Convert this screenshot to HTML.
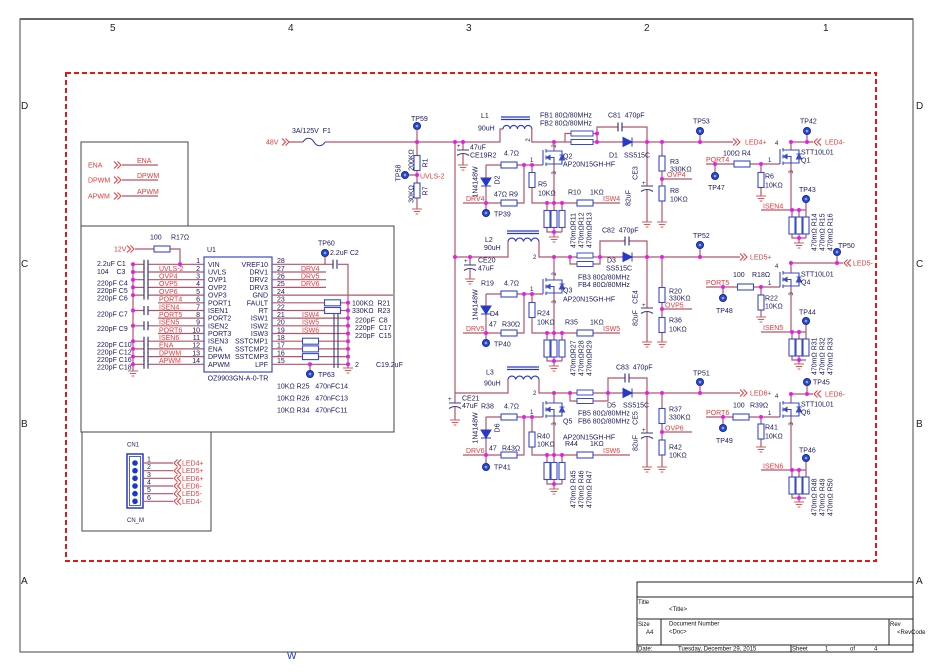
<!DOCTYPE html>
<html><head><meta charset="utf-8"><style>
html,body{margin:0;padding:0;background:#fff;width:950px;height:672px;overflow:hidden}
svg{display:block;font-family:"Liberation Sans",Arial,sans-serif}
.w{stroke:#b0566a;stroke-width:1.2;fill:none}
.k{stroke:#3a3a8a;stroke-width:1.1;fill:none}
.t{font-size:7px;fill:#1a1a60}
.n{font-size:7px;fill:#e23b3b}
.s{font-size:6px;fill:#111}
.z{font-size:10px;fill:#222}
.m{text-anchor:middle}
.e{text-anchor:end}
</style></head><body>
<svg width="950" height="672" viewBox="0 0 950 672" xmlns="http://www.w3.org/2000/svg">
<defs>
<path id="g" d="M-5,0H5M-3.2,2.5H3.2M-1.4,5H1.4" stroke="#d45a5a" stroke-width="1" fill="none"/>
<circle id="j" r="2" fill="#e81ee8"/>
<g id="tp"><circle r="3.6" fill="#2446d8" stroke="#15257a" stroke-width="0.8"/><circle r="1.3" fill="#90a8ff"/></g>
<rect id="rh" x="-8" y="-3" width="16" height="6" fill="#fff" stroke="#3b4bc8" stroke-width="1.1"/>
<rect id="rv" x="-3" y="-7.5" width="6" height="15" fill="#fff" stroke="#3b4bc8" stroke-width="1.1"/>
<rect id="rs" x="-3" y="-8.5" width="6" height="17" fill="#fff" stroke="#3b4bc8" stroke-width="1.1"/>
<path id="ar" d="M0,-3.5L3.5,0L0,3.5M3.5,-3.5L7,0L3.5,3.5" stroke="#e23b3b" stroke-width="1" fill="none"/>
<path id="al" d="M7,-3.5L3.5,0L7,3.5M3.5,-3.5L0,0L3.5,3.5" stroke="#e23b3b" stroke-width="1" fill="none"/>
<g id="nm" fill="none" stroke="#3b4bc8" stroke-width="1.1">
 <path d="M0,0V-15M3,-16V-12.5M3,-9.5V-5.5M3,-2.5V1M3,-14H11M3,-7.5H11V-1H3M11,-14H19V-1H11"/>
 <path d="M3.5,-7.5L7,-9.5V-5.5Z" fill="#3b4bc8"/>
 <path d="M16.5,-5H21.5L19,-10ZM16.5,-10H21.5" fill="#3b4bc8"/>
</g>
<path id="dd" d="M-5,0H5L0,8ZM-5,8H5" fill="#2838c8" stroke="#2838c8" stroke-width="1"/>
<path id="dr" d="M0,-4.5L9,0L0,4.5ZM9,-4.5V4.5" fill="#2838c8" stroke="#2838c8" stroke-width="1"/>
<path id="cv" d="M0,-4.5V4.5M4,-4.5V4.5" stroke="#3a3a8a" stroke-width="1.2" fill="none"/>
<path id="ce" d="M-6,0H6M-6,5.5Q0,1.5 6,5.5" fill="none" stroke="#3a3a8a" stroke-width="1.1"/>
</defs>

<!-- frame -->
<path d="M20,19H913V652H20Z" fill="none" stroke="#444" stroke-width="1"/>
<path d="M20,19H913" stroke="#666" stroke-width="2"/>
<text x="110" y="31" class="z">5</text><text x="288" y="31" class="z">4</text><text x="466" y="31" class="z">3</text><text x="644" y="31" class="z">2</text><text x="823" y="31" class="z">1</text>
<text x="21" y="109" class="z">D</text><text x="916" y="109" class="z">D</text>
<text x="21" y="267" class="z">C</text><text x="916" y="267" class="z">C</text>
<text x="21" y="427" class="z">B</text><text x="916" y="427" class="z">B</text>
<text x="21" y="584" class="z">A</text><text x="916" y="584" class="z">A</text>
<text x="287" y="659" class="z" style="fill:#2030d0">W</text>

<rect x="66" y="73" width="810" height="488" fill="none" stroke="#e01818" stroke-width="2" stroke-dasharray="5,3"/>

<!-- title block -->
<g fill="none" stroke="#222" stroke-width="1">
<rect x="637" y="582" width="276" height="70"/>
<path d="M637,597H913M637,619H913M637,645H913M661,619V645M889,619V645M791,645V652"/>
</g>
<text x="638" y="604" class="s">Title</text><text x="669" y="611" class="s">&lt;Title&gt;</text>
<text x="638" y="626" class="s">Size</text><text x="646" y="634" class="s">A4</text>
<text x="669" y="625.5" class="s">Document Number</text><text x="669" y="633.5" class="s">&lt;Doc&gt;</text>
<text x="890" y="626" class="s">Rev</text><text x="897" y="634" class="s">&lt;RevCode</text>
<text x="638" y="650.5" class="s">Date:</text><text x="678" y="650.5" class="s">Tuesday, December 29, 2015</text>
<text x="792" y="650.5" class="s">Sheet</text><text x="825" y="650.5" class="s">1</text><text x="850" y="650.5" class="s">of</text><text x="874" y="650.5" class="s">4</text>

<!-- left boxes -->
<g fill="none" stroke="#444" stroke-width="1">
<rect x="81" y="142" width="107" height="84"/>
<rect x="81" y="226" width="313" height="206"/>
<rect x="82" y="432" width="129" height="99"/>
</g>
<path class="w" d="M122,165H158M122,180H158M122,196H158"/>
<text x="88" y="167.5" class="n">ENA</text><use href="#ar" x="114" y="165"/><text x="137" y="163" class="n">ENA</text>
<text x="88" y="182.5" class="n">DPWM</text><use href="#ar" x="114" y="180"/><text x="137" y="178" class="n">DPWM</text>
<text x="88" y="198.5" class="n">APWM</text><use href="#ar" x="114" y="196"/><text x="137" y="194" class="n">APWM</text>

<!-- U1 -->
<text x="150" y="239.5" class="t">100</text><text x="171" y="239.5" class="t">R17Ω</text>
<text x="114" y="251.5" class="n">12V</text><use href="#ar" x="127" y="249"/>
<path class="w" d="M135,249H154M170,249H180V264.3"/>
<use href="#rh" x="162" y="249"/>
<path class="w" d="M148,264.3H204M148,272H204M148,279.7H204M148,287.4H204M148,295.1H204M158,302.8H204M148,310.5H204M158,318.1H204M148,325.8H204M158,333.5H204M148,341.2H204M148,348.9H204M148,356.6H204M148,364.3H204
M133,264.3V371M133,264.3H144M133,272H144M133,279.7H144M133,287.4H144M133,295.1H144M133,310.5H144M133,325.8H144M133,341.2H144M133,348.9H144M133,356.6H144M133,364.3H144"/>
<use href="#cv" x="144" y="264.3"/><use href="#cv" x="144" y="272"/><use href="#cv" x="144" y="279.7"/><use href="#cv" x="144" y="287.4"/><use href="#cv" x="144" y="295.1"/><use href="#cv" x="144" y="310.5"/><use href="#cv" x="144" y="325.8"/><use href="#cv" x="144" y="341.2"/><use href="#cv" x="144" y="348.9"/><use href="#cv" x="144" y="356.6"/><use href="#cv" x="144" y="364.3"/>
<use href="#j" x="133" y="264.3"/><use href="#j" x="133" y="272"/><use href="#j" x="133" y="279.7"/><use href="#j" x="133" y="287.4"/><use href="#j" x="133" y="295.1"/><use href="#j" x="133" y="310.5"/><use href="#j" x="133" y="325.8"/><use href="#j" x="133" y="341.2"/><use href="#j" x="133" y="348.9"/><use href="#j" x="133" y="356.6"/><use href="#j" x="133" y="364.3"/><use href="#j" x="180" y="264.3"/>
<use href="#g" x="133" y="371"/>
<text x="97" y="266" class="t">2.2uF C1</text><text x="97" y="274" class="t">104&#160;&#160;&#160; C3</text>
<text x="97" y="285.5" class="t">220pF C4</text><text x="97" y="293" class="t">220pF C5</text><text x="97" y="300.5" class="t">220pF C6</text>
<text x="97" y="316.5" class="t">220pF C7</text><text x="97" y="331" class="t">220pF C9</text>
<text x="97" y="347" class="t">220pF C10</text><text x="97" y="354.5" class="t">220pF C12</text><text x="97" y="362" class="t">220pF C16</text><text x="97" y="369.5" class="t">220pF C18</text>
<g class="n">
<text x="159" y="270.8">UVLS-2</text><text x="159" y="278.5">OVP4</text><text x="159" y="286.2">OVP5</text><text x="159" y="293.9">OVP6</text><text x="159" y="301.6">PORT4</text><text x="159" y="309.3">ISEN4</text><text x="159" y="316.9">PORT5</text><text x="159" y="324.6">ISEN5</text><text x="159" y="332.3">PORT6</text><text x="159" y="340">ISEN6</text><text x="159" y="347.7">ENA</text><text x="159" y="355.4">DPWM</text><text x="159" y="363.1">APWM</text>
</g>
<rect x="204" y="257" width="68" height="115" fill="none" stroke="#3b4bc8" stroke-width="1.2"/>
<text x="207" y="252" class="t">U1</text>
<g class="t e">
<text x="200" y="263.1">1</text><text x="200" y="270.8">2</text><text x="200" y="278.5">3</text><text x="200" y="286.2">4</text><text x="200" y="293.9">5</text><text x="200" y="301.6">6</text><text x="200" y="309.3">7</text><text x="200" y="316.9">8</text><text x="200" y="324.6">9</text><text x="200" y="332.3">10</text><text x="200" y="340">11</text><text x="200" y="347.7">12</text><text x="200" y="355.4">13</text><text x="200" y="363.1">14</text>
<text x="268" y="266.8">VREF10</text><text x="268" y="274.5">DRV1</text><text x="268" y="282.2">DRV2</text><text x="268" y="289.9">DRV3</text><text x="268" y="297.6">GND</text><text x="268" y="305.3">FAULT</text><text x="268" y="313">RT</text><text x="268" y="320.6">ISW1</text><text x="268" y="328.3">ISW2</text><text x="268" y="336">ISW3</text><text x="268" y="343.7">SSTCMP1</text><text x="268" y="351.4">SSTCMP2</text><text x="268" y="359.1">SSTCMP3</text><text x="268" y="366.8">LPF</text>
</g>
<g class="t">
<text x="208" y="266.8">VIN</text><text x="208" y="274.5">UVLS</text><text x="208" y="282.2">OVP1</text><text x="208" y="289.9">OVP2</text><text x="208" y="297.6">OVP3</text><text x="208" y="305.3">PORT1</text><text x="208" y="313">ISEN1</text><text x="208" y="320.6">PORT2</text><text x="208" y="328.3">ISEN2</text><text x="208" y="336">PORT3</text><text x="208" y="343.7">ISEN3</text><text x="208" y="351.4">ENA</text><text x="208" y="359.1">DPWM</text><text x="208" y="366.8">APWM</text>
<text x="277" y="263.1">28</text><text x="277" y="270.8">27</text><text x="277" y="278.5">26</text><text x="277" y="286.2">25</text><text x="277" y="293.9">24</text><text x="277" y="301.6">23</text><text x="277" y="309.3">22</text><text x="277" y="316.9">21</text><text x="277" y="324.6">20</text><text x="277" y="332.3">19</text><text x="277" y="340">18</text><text x="277" y="347.7">17</text><text x="277" y="355.4">16</text><text x="277" y="363.1">15</text>
</g>
<path class="w" d="M272,264.3H333M338,264.3H348V368M325,264.3V256.5M272,272H326M272,279.7H326M272,287.4H326M272,295.1H393M272,302.8H325M340,302.8H348M272,310.5H325M340,310.5H348M272,318.1H348M272,325.8H348M272,333.5H348M272,341.2H303M318,341.2H348M272,348.9H303M318,348.9H348M272,356.6H303M318,356.6H348M272,364.3H348M310,364.3V370.5"/>
<use href="#cv" x="333" y="264.3"/>
<path class="k" d="M334,314V368M338,314V368"/>
<use href="#rh" x="332.5" y="302.8"/><use href="#rh" x="332.5" y="310.5"/>
<use href="#rh" x="310.5" y="341.2"/><use href="#rh" x="310.5" y="348.9"/><use href="#rh" x="310.5" y="356.6"/>
<use href="#j" x="348" y="302.8"/><use href="#j" x="348" y="310.5"/><use href="#j" x="348" y="318.1"/><use href="#j" x="348" y="325.8"/><use href="#j" x="348" y="333.5"/><use href="#j" x="348" y="341.2"/><use href="#j" x="348" y="348.9"/><use href="#j" x="348" y="356.6"/><use href="#j" x="348" y="364.3"/><use href="#j" x="310" y="364.3"/>
<use href="#g" x="348" y="368"/>
<use href="#tp" x="325" y="253"/><use href="#tp" x="310" y="374"/>
<g class="n"><text x="301" y="270.8">DRV4</text><text x="301" y="278.5">DRV5</text><text x="301" y="286.2">DRV6</text><text x="302" y="316.9">ISW4</text><text x="302" y="324.6">ISW5</text><text x="302" y="332.3">ISW6</text></g>
<g class="t">
<text x="318" y="245.5">TP60</text><text x="330" y="255">2.2uF C2</text>
<text x="352" y="305.3">100KΩ&#160; R21</text><text x="352" y="313">330KΩ&#160; R23</text>
<text x="355" y="322.5">220pF&#160; C8</text><text x="355" y="330">220pF&#160; C17</text><text x="355" y="338">220pF&#160; C15</text>
<text x="355" y="367">2</text><text x="376" y="367">C19.2uF</text>
<text x="318" y="377">TP63</text>
<text x="238" y="380.5" class="m">OZ9903GN-A-0-TR</text>
<text x="277" y="388.5">10KΩ R25&#160;&#160; 470nFC14</text>
<text x="277" y="400.5">10KΩ R26&#160;&#160; 470nFC13</text>
<text x="277" y="412.5">10KΩ R34&#160;&#160; 470nFC11</text>
</g>

<!-- CN1 -->
<text x="127" y="446.5" class="t" style="font-size:6px">CN1</text>
<rect x="127" y="454" width="16" height="54" fill="none" stroke="#2838c8" stroke-width="1.5"/>
<rect x="129.5" y="456.5" width="11" height="49" fill="none" stroke="#2838c8" stroke-width="0.8"/>
<g fill="#1a38d0"><circle cx="135" cy="463" r="2.8"/><circle cx="135" cy="470.7" r="2.8"/><circle cx="135" cy="478.3" r="2.8"/><circle cx="135" cy="486" r="2.8"/><circle cx="135" cy="493.7" r="2.8"/><circle cx="135" cy="501.3" r="2.8"/></g>
<path class="w" d="M143,463H173M143,470.7H173M143,478.3H173M143,486H173M143,493.7H173M143,501.3H173"/>
<use href="#al" x="174" y="463"/><use href="#al" x="174" y="470.7"/><use href="#al" x="174" y="478.3"/><use href="#al" x="174" y="486"/><use href="#al" x="174" y="493.7"/><use href="#al" x="174" y="501.3"/>
<g class="t"><text x="147" y="461.5">1</text><text x="147" y="469.2">2</text><text x="147" y="476.8">3</text><text x="147" y="484.5">4</text><text x="147" y="492.2">5</text><text x="147" y="499.8">6</text>
<text x="127" y="522" style="font-size:6px">CN_M</text></g>
<g class="n"><text x="182" y="465.5">LED4+</text><text x="182" y="473.2">LED5+</text><text x="182" y="480.8">LED6+</text><text x="182" y="488.5">LED6-</text><text x="182" y="496.2">LED5-</text><text x="182" y="503.8">LED4-</text></g>

<!-- 48V input -->
<text x="266" y="144.5" class="n">48V</text><use href="#ar" x="282" y="142"/>
<path d="M303,142c3,-5 8,-5 11,0c3,5 8,5 11,0" fill="none" stroke="#2838c8" stroke-width="1.1"/>
<text x="292" y="133" class="t">3A/125V&#160; F1</text>
<path class="w" d="M289,142H303M325,142H500V129H503M417,142V155.5M417,170.5V183M417,198V209M405,175H417M455,142V393M463,142V150M463,154V165"/>
<use href="#rv" x="417" y="163"/><use href="#rv" x="417" y="190.5"/>
<use href="#j" x="417" y="142"/><use href="#j" x="417" y="175"/><use href="#j" x="455" y="142"/><use href="#j" x="463" y="142"/>
<use href="#tp" x="417" y="126"/><use href="#tp" x="405" y="175"/>
<path class="w" d="M417,142V129.5"/>
<use href="#g" x="417" y="209"/><use href="#ce" x="463" y="150"/><use href="#g" x="463" y="165"/>
<text x="411" y="121" class="t">TP59</text>
<text transform="translate(413.5,160) rotate(-90)" class="t m">200KΩ</text>
<text transform="translate(427.5,163) rotate(-90)" class="t m">R1</text>
<text transform="translate(400.5,173) rotate(-90)" class="t m">TP58</text>
<text transform="translate(413.5,194) rotate(-90)" class="t m">30KΩ</text>
<text transform="translate(427.5,191) rotate(-90)" class="t m">R7</text>
<text x="420" y="178.5" class="n">UVLS-2</text>
<text x="457" y="148" class="t" style="font-size:6px">+</text>
<text x="470" y="149.5" class="t">47uF</text><text x="470" y="157.5" class="t">CE19R2</text>

<!-- ROW 1 power -->
<path d="M501,117H530M501,119.5H530" stroke="#2838c8" stroke-width="1.2" fill="none"/>
<path d="M503,129a3.6,3.6 0 0 1 7.2,0a3.6,3.6 0 0 1 7.2,0a3.6,3.6 0 0 1 7.2,0a3.6,3.6 0 0 1 7.2,0" fill="none" stroke="#2838c8" stroke-width="1.1"/>
<text x="481" y="118" class="t">L1</text><text x="478" y="130.5" class="t">90uH</text>
<path class="w" d="M531.8,129V142H565V133.5H571M565,142H571M593,133.5H597V142M593,142H623M632,142H733M597,133.5V127H618M622,127H647V142M647,142V186M647,190V222M662,142V156M662,171V186M662,201V222M662,179H692M700,142V134.5"/>
<rect x="571" y="131" width="22" height="5" fill="#fff" stroke="#3b4bc8" stroke-width="1"/>
<rect x="571" y="139.5" width="22" height="5" fill="#fff" stroke="#3b4bc8" stroke-width="1"/>
<use href="#cv" x="618" y="127"/><use href="#dr" x="623" y="142"/>
<use href="#ce" x="647" y="186"/><use href="#g" x="647" y="222"/>
<use href="#rv" x="662" y="163.5"/><use href="#rv" x="662" y="193.5"/><use href="#g" x="662" y="222"/>
<use href="#j" x="554" y="142"/><use href="#j" x="597" y="133.5"/><use href="#j" x="597" y="142"/><use href="#j" x="647" y="142"/><use href="#j" x="662" y="142"/><use href="#j" x="700" y="142"/><use href="#j" x="662" y="179"/>
<use href="#tp" x="700" y="131"/>
<g class="t">
<text x="540" y="117.5">FB1 80Ω/80MHz</text><text x="540" y="125.5">FB2 80Ω/80MHz</text>
<text x="608" y="117.5">C81&#160; 470pF</text>
<text x="609" y="157.5">D1</text><text x="624" y="157.5">SS515C</text>
<text x="693" y="123.5">TP53</text>
<text x="670" y="164">R3</text><text x="670" y="171.5">330KΩ</text><text x="670" y="193">R8</text><text x="670" y="201.5">10KΩ</text>
<text x="642" y="185" style="font-size:6px">+</text>
<text transform="translate(637.5,173) rotate(-90)" class="m">CE3</text>
<text transform="translate(630.5,198) rotate(-90)" class="m">82uF</text>
<text transform="translate(530,140) rotate(-90)" class="m" style="font-size:6px">2</text>
</g>
<text x="667" y="177" class="n">OVP4</text>
<!-- driver 1 -->
<path class="w" d="M463,203H501M517,203H524V165M486,165H501M486,165V178M486,186V209.5M517,165H543M532,165V172.5M532,187.5V203H577M593,203H620M554,151V142M554,164V203M547,203V210.5M554,203V210.5M562,203V210.5M547,227.5V232H562M554,227.5V232M562,227.5V232M554,232V237"/>
<use href="#rh" x="509" y="165"/><use href="#rh" x="509" y="203"/><use href="#rv" x="532" y="180"/><use href="#rh" x="585" y="203"/>
<use href="#rs" x="547" y="219"/><use href="#rs" x="554" y="219"/><use href="#rs" x="562" y="219"/>
<use href="#dd" x="486" y="178"/><use href="#nm" x="543" y="165"/>
<use href="#j" x="486" y="203"/><use href="#j" x="524" y="165"/><use href="#j" x="532" y="165"/><use href="#j" x="547" y="203"/><use href="#j" x="554" y="203"/><use href="#j" x="562" y="203"/><use href="#j" x="554" y="232"/>
<use href="#tp" x="486" y="213"/><use href="#g" x="554" y="237"/>
<g class="t">
<text x="504" y="155.5">4.7Ω</text><text x="494" y="196.5">47Ω R9</text><text x="494" y="216.5">TP39</text>
<text x="530" y="162" style="font-size:6px">1</text>
<text x="538" y="186.5">R5</text><text x="538" y="195.5">10KΩ</text>
<text x="568" y="194.5">R10</text><text x="590" y="194.5">1KΩ</text>
<text x="563" y="158.5">Q2</text><text x="563" y="166.5">AP20N15GH-HF</text>
<text transform="translate(499.5,180) rotate(-90)" class="m">D2</text>
<text transform="translate(477.5,182) rotate(-90)" class="m">1N4148W</text>
<text transform="translate(556,173) rotate(-90)" class="m" style="font-size:6px">3</text>
<text transform="translate(556,146) rotate(-90)" class="m" style="font-size:6px">2</text>
<text transform="translate(575.5,248) rotate(-90)">470mΩR11</text>
<text transform="translate(583.5,248) rotate(-90)">470mΩR12</text>
<text transform="translate(591.5,248) rotate(-90)">470mΩR13</text>
</g>
<g class="n"><text x="466" y="201">DRV4</text><text x="603" y="201">ISW4</text></g>

<!-- ROW 2 power -->
<path d="M507,231H539M507,233.5H539" stroke="#2838c8" stroke-width="1.2" fill="none"/>
<path d="M508,241.5a3.9,3.9 0 0 1 7.75,0a3.9,3.9 0 0 1 7.75,0a3.9,3.9 0 0 1 7.75,0a3.9,3.9 0 0 1 7.75,0" fill="none" stroke="#2838c8" stroke-width="1.1"/>
<text x="485" y="242" class="t">L2</text><text x="484" y="250" class="t">90uH</text>
<path class="w" d="M455,257H508V241.5M539,241.5V257H577M570,257V264H577M593,264H600V257M593,257H623M632,257H740M600,257V241H625M629,241H647V257M470,257V265M470,269V279M647,257V308M647,312V342M662,257V287.5M662,302.5V317.5M662,332.5V342M662,309H692M700,257V248.5"/>
<rect x="577" y="253" width="16" height="5" fill="#fff" stroke="#3b4bc8" stroke-width="1"/>
<rect x="577" y="261.5" width="16" height="5" fill="#fff" stroke="#3b4bc8" stroke-width="1"/>
<use href="#cv" x="625" y="241"/><use href="#dr" x="623" y="257"/>
<use href="#ce" x="470" y="265"/><use href="#g" x="470" y="279"/>
<use href="#ce" x="647" y="308"/><use href="#g" x="647" y="342"/>
<use href="#rv" x="662" y="295"/><use href="#rv" x="662" y="325"/><use href="#g" x="662" y="342"/>
<use href="#j" x="455" y="257"/><use href="#j" x="470" y="257"/><use href="#j" x="554" y="257"/><use href="#j" x="570" y="257"/><use href="#j" x="600" y="257"/><use href="#j" x="647" y="257"/><use href="#j" x="662" y="257"/><use href="#j" x="700" y="257"/><use href="#j" x="662" y="309"/>
<use href="#tp" x="700" y="245"/>
<g class="t">
<text x="464" y="263" style="font-size:6px">+</text>
<text x="478" y="262.5">CE20</text><text x="478" y="270.5">47uF</text>
<text x="533" y="259" style="font-size:6px">2</text>
<text x="602" y="232.5">C82&#160; 470pF</text>
<text x="607" y="262.5">D3</text><text x="606" y="270.5">SS515C</text>
<text x="578" y="279.5">FB3 80Ω/80MHz</text><text x="578" y="287">FB4 80Ω/80MHz</text>
<text x="693" y="238">TP52</text>
<text x="669" y="293.5">R20</text><text x="669" y="300.5">330KΩ</text><text x="669" y="322.5">R36</text><text x="669" y="331.5">10KΩ</text>
<text x="642" y="307" style="font-size:6px">+</text>
<text transform="translate(637.5,297) rotate(-90)" class="m">CE4</text>
<text transform="translate(637.5,318) rotate(-90)" class="m">82uF</text>
</g>
<text x="665" y="307.5" class="n">OVP5</text>
<!-- driver 2 -->
<path class="w" d="M463,333H501M517,333H524V294M486,294H501M486,294V306M486,314V339.5M517,294H543M532,294V302.5M532,317.5V333H577M593,333H620M554,280V257M554,293V333M547,333V340M554,333V340M562,333V340M547,357V361H562M554,357V361M562,357V361M554,361V366"/>
<use href="#rh" x="509" y="294"/><use href="#rh" x="509" y="333"/><use href="#rv" x="532" y="310"/><use href="#rh" x="585" y="333"/>
<use href="#rs" x="547" y="348.5"/><use href="#rs" x="554" y="348.5"/><use href="#rs" x="562" y="348.5"/>
<use href="#dd" x="486" y="306"/><use href="#nm" x="543" y="294"/>
<use href="#j" x="486" y="333"/><use href="#j" x="524" y="294"/><use href="#j" x="532" y="294"/><use href="#j" x="547" y="333"/><use href="#j" x="554" y="333"/><use href="#j" x="562" y="333"/><use href="#j" x="554" y="361"/>
<use href="#tp" x="486" y="343"/><use href="#g" x="554" y="366"/>
<g class="t">
<text x="481" y="285.5">R19</text><text x="504" y="285.5">4.7Ω</text>
<text x="490" y="316">D4</text>
<text x="489" y="326.5">47</text><text x="502" y="326.5">R30Ω</text>
<text x="494" y="346.5">TP40</text>
<text x="530" y="291" style="font-size:6px">1</text>
<text x="537" y="315.5">R24</text><text x="537" y="324.5">10KΩ</text>
<text x="565" y="324.5">R35</text><text x="590" y="324.5">1KΩ</text>
<text x="563" y="292.5">Q3</text><text x="563" y="301.5">AP20N15GH-HF</text>
<text transform="translate(477.5,305) rotate(-90)" class="m">1N4148W</text>
<text transform="translate(556,302) rotate(-90)" class="m" style="font-size:6px">3</text>
<text transform="translate(556,274) rotate(-90)" class="m" style="font-size:6px">2</text>
<text transform="translate(575.5,376) rotate(-90)">470mΩR27</text>
<text transform="translate(583.5,376) rotate(-90)">470mΩR28</text>
<text transform="translate(591.5,376) rotate(-90)">470mΩR29</text>
</g>
<g class="n"><text x="466" y="331">DRV5</text><text x="603" y="331">ISW5</text></g>

<!-- ROW 3 power -->
<path d="M507,367H539M507,369.5H539" stroke="#2838c8" stroke-width="1.2" fill="none"/>
<path d="M508,379.5a3.9,3.9 0 0 1 7.75,0a3.9,3.9 0 0 1 7.75,0a3.9,3.9 0 0 1 7.75,0a3.9,3.9 0 0 1 7.75,0" fill="none" stroke="#2838c8" stroke-width="1.1"/>
<text x="486" y="374.5" class="t">L3</text><text x="484" y="385.5" class="t">90uH</text>
<path class="w" d="M455,393H508V379.5M539,379.5V393H577M570,393V401H577M593,401H608V393M593,393H623M632,393H740M608,393V378H625M629,378H647V393M455,393V403M455,407V420M647,393V433M647,437V467M662,393V408.5M662,423.5V440M662,455V467M662,432H692M700,393V385.5"/>
<rect x="577" y="390" width="16" height="5" fill="#fff" stroke="#3b4bc8" stroke-width="1"/>
<rect x="577" y="398.5" width="16" height="5" fill="#fff" stroke="#3b4bc8" stroke-width="1"/>
<use href="#cv" x="625" y="378"/><use href="#dr" x="623" y="393"/>
<use href="#ce" x="455" y="403"/><use href="#g" x="455" y="420"/>
<use href="#ce" x="647" y="433"/><use href="#g" x="647" y="467"/>
<use href="#rv" x="662" y="416"/><use href="#rv" x="662" y="447.5"/><use href="#g" x="662" y="467"/>
<use href="#j" x="554" y="393"/><use href="#j" x="570" y="393"/><use href="#j" x="608" y="393"/><use href="#j" x="647" y="393"/><use href="#j" x="662" y="393"/><use href="#j" x="700" y="393"/><use href="#j" x="662" y="432"/>
<use href="#tp" x="700" y="382"/>
<g class="t">
<text x="448" y="401" style="font-size:6px">+</text>
<text x="462" y="400.5">CE21</text><text x="462" y="408">47uF</text>
<text x="533" y="395" style="font-size:6px">2</text>
<text x="616" y="369.5">C83&#160; 470pF</text>
<text x="607" y="407.5">D5</text><text x="623" y="407.5">SS515C</text>
<text x="578" y="415.5">FB5 80Ω/80MHz</text><text x="578" y="423.5">FB6 80Ω/80MHz</text>
<text x="693" y="375.5">TP51</text>
<text x="669" y="411.5">R37</text><text x="669" y="419.5">330KΩ</text><text x="669" y="449.5">R42</text><text x="669" y="457.5">10KΩ</text>
<text x="642" y="432" style="font-size:6px">+</text>
<text transform="translate(637.5,418) rotate(-90)" class="m">CE5</text>
<text transform="translate(637.5,443) rotate(-90)" class="m">82uF</text>
</g>
<text x="665" y="430.5" class="n">OVP6</text>
<!-- driver 3 -->
<path class="w" d="M463,455H501M517,455H524V417M486,417H501M486,417V430M486,438V463.5M517,417H543M532,417V432M532,447V455H577M593,455H630M554,403V393M554,416V455M547,455V462.5M554,455V462.5M562,455V462.5M547,479.5V484H562M554,479.5V484M562,479.5V484M554,484V489"/>
<use href="#rh" x="509" y="417"/><use href="#rh" x="509" y="455"/><use href="#rv" x="532" y="439.5"/><use href="#rh" x="585" y="455"/>
<use href="#rs" x="547" y="471"/><use href="#rs" x="554" y="471"/><use href="#rs" x="562" y="471"/>
<use href="#dd" x="486" y="430"/><use href="#nm" x="543" y="417"/>
<use href="#j" x="486" y="455"/><use href="#j" x="524" y="417"/><use href="#j" x="532" y="417"/><use href="#j" x="547" y="455"/><use href="#j" x="554" y="455"/><use href="#j" x="562" y="455"/><use href="#j" x="554" y="484"/>
<use href="#tp" x="486" y="467"/><use href="#g" x="554" y="489"/>
<g class="t">
<text x="481" y="408.5">R38</text><text x="504" y="408.5">4.7Ω</text>
<text x="489" y="450.5">47</text><text x="502" y="450.5">R43Ω</text>
<text x="494" y="469.5">TP41</text>
<text x="530" y="414" style="font-size:6px">1</text>
<text x="537" y="438.5">R40</text><text x="537" y="446.5">10KΩ</text>
<text x="565" y="446">R44</text><text x="590" y="446">1KΩ</text>
<text x="563" y="423.5">Q5</text><text x="563" y="439.5">AP20N15GH-HF</text>
<text transform="translate(499.5,428) rotate(-90)" class="m">D6</text>
<text transform="translate(477.5,428) rotate(-90)" class="m">1N4148W</text>
<text transform="translate(556,424) rotate(-90)" class="m" style="font-size:6px">3</text>
<text transform="translate(575.5,508) rotate(-90)">470mΩ R45</text>
<text transform="translate(583.5,508) rotate(-90)">470mΩ R46</text>
<text transform="translate(591.5,508) rotate(-90)">470mΩ R47</text>
</g>
<g class="n"><text x="466" y="453">DRV6</text><text x="603" y="453">ISW6</text></g>

<!-- RIGHT row 1 -->
<use href="#ar" x="733" y="142"/><text x="745" y="144.5" class="n">LED4+</text>
<path class="w" d="M706,164H734M750,164H780M715,164V172.5M761,164V172.5M761,187.5V196M791,150V142H813M807,142V134.5M791,163V210M761,210H806V202.5M792,210V217M799,210V217M806,210V217M792,233V238H806M799,233V238M806,233V238M799,238V243"/>
<use href="#rs" x="792" y="225.5"/><use href="#rs" x="799" y="225.5"/><use href="#rs" x="806" y="225.5"/>
<use href="#rh" x="742" y="164"/><use href="#rv" x="761" y="180"/><use href="#nm" x="780" y="164"/>
<use href="#j" x="715" y="164"/><use href="#j" x="761" y="164"/><use href="#j" x="791" y="142"/><use href="#j" x="807" y="142"/><use href="#j" x="792" y="210"/><use href="#j" x="799" y="210"/><use href="#j" x="799" y="238"/>
<use href="#tp" x="807" y="131"/><use href="#tp" x="715" y="176"/><use href="#tp" x="806" y="199"/>
<use href="#g" x="761" y="196"/><use href="#g" x="799" y="243"/>
<use href="#al" x="814" y="142"/><text x="825" y="144.5" class="n">LED4-</text>
<text x="706" y="162" class="n">PORT4</text><text x="763" y="208.5" class="n">ISEN4</text>
<g class="t">
<text x="800" y="123.5">TP42</text>
<text x="723" y="155.5">100Ω R4</text>
<text x="768" y="162" style="font-size:6px">1</text>
<text x="775" y="145" style="font-size:6px">4</text>
<text x="801" y="154.5">STT10L01</text><text x="801" y="162.5">Q1</text>
<text x="708" y="190">TP47</text>
<text x="765" y="178.5">R6</text><text x="765" y="187.5">10KΩ</text>
<text x="799" y="192">TP43</text>
<text transform="translate(793,172) rotate(-90)" class="m" style="font-size:6px">3</text>
<text transform="translate(816.5,251) rotate(-90)">470mΩ R14</text>
<text transform="translate(824.5,251) rotate(-90)">470mΩ R15</text>
<text transform="translate(832.5,251) rotate(-90)">470mΩ R16</text>
</g>

<!-- RIGHT row 2 -->
<use href="#ar" x="740" y="257"/><text x="750" y="259.5" class="n">LED5+</text>
<path class="w" d="M706,287H737.5M753.5,287H780M723,287V294.5M761,287V295M761,310V317M791,273V263H843M837,263V255.5M791,286V332M761,332H806V324.5M792,332V339M799,332V339M806,332V339M792,356V360H806M799,356V360M799,360V364"/>
<use href="#rs" x="792" y="347.5"/><use href="#rs" x="799" y="347.5"/><use href="#rs" x="806" y="347.5"/>
<use href="#rh" x="745.5" y="287"/><use href="#rv" x="761" y="302.5"/><use href="#nm" x="780" y="287"/>
<use href="#j" x="723" y="287"/><use href="#j" x="761" y="287"/><use href="#j" x="791" y="263"/><use href="#j" x="837" y="263"/><use href="#j" x="792" y="332"/><use href="#j" x="799" y="332"/><use href="#j" x="799" y="360"/>
<use href="#tp" x="837" y="252"/><use href="#tp" x="723" y="298"/><use href="#tp" x="806" y="321"/>
<use href="#g" x="761" y="317"/><use href="#g" x="799" y="364"/>
<use href="#al" x="844" y="263"/><text x="853" y="265.5" class="n">LED5-</text>
<text x="706" y="285" class="n">PORT5</text><text x="763" y="330" class="n">ISEN5</text>
<g class="t">
<text x="838" y="248">TP50</text>
<text x="733" y="277">100</text><text x="752" y="277">R18Ω</text>
<text x="768" y="285" style="font-size:6px">1</text>
<text x="775" y="268" style="font-size:6px">4</text>
<text x="801" y="276.5">STT10L01</text><text x="801" y="284.5">Q4</text>
<text x="716" y="313">TP48</text>
<text x="765" y="300.5">R22</text><text x="765" y="308.5">10KΩ</text>
<text x="799" y="314.5">TP44</text>
<text transform="translate(793,294) rotate(-90)" class="m" style="font-size:6px">3</text>
<text transform="translate(816.5,375) rotate(-90)">470mΩ R31</text>
<text transform="translate(824.5,375) rotate(-90)">470mΩ R32</text>
<text transform="translate(832.5,375) rotate(-90)">470mΩ R33</text>
</g>

<!-- RIGHT row 3 -->
<use href="#ar" x="740" y="393"/><text x="750" y="395.5" class="n">LED6+</text>
<path class="w" d="M706,417H733M749,417H780M723,417V424.5M761,417V424M761,439V447M791,403V394H813M807,394V385.5M791,416V470M761,470H806V461.5M792,470V477M799,470V477M806,470V477M792,494V498H806M799,494V498M799,498V502"/>
<use href="#rs" x="792" y="485.5"/><use href="#rs" x="799" y="485.5"/><use href="#rs" x="806" y="485.5"/>
<use href="#rh" x="741" y="417"/><use href="#rv" x="761" y="431.5"/><use href="#nm" x="780" y="417"/>
<use href="#j" x="723" y="417"/><use href="#j" x="761" y="417"/><use href="#j" x="791" y="394"/><use href="#j" x="807" y="394"/><use href="#j" x="792" y="470"/><use href="#j" x="799" y="470"/><use href="#j" x="799" y="498"/>
<use href="#tp" x="807" y="382"/><use href="#tp" x="723" y="428"/><use href="#tp" x="806" y="458"/>
<use href="#g" x="761" y="447"/><use href="#g" x="799" y="502"/>
<use href="#al" x="814" y="394"/><text x="825" y="396.5" class="n">LED6-</text>
<text x="706" y="415" class="n">PORT6</text><text x="763" y="468.5" class="n">ISEN6</text>
<g class="t">
<text x="813" y="384.5">TP45</text>
<text x="733" y="407.5">100</text><text x="750" y="407.5">R39Ω</text>
<text x="768" y="415" style="font-size:6px">1</text>
<text x="775" y="398" style="font-size:6px">4</text>
<text x="801" y="406.5">STT10L01</text><text x="801" y="414.5">Q6</text>
<text x="716" y="443">TP49</text>
<text x="765" y="429.5">R41</text><text x="765" y="438.5">10KΩ</text>
<text x="799" y="452.5">TP46</text>
<text transform="translate(793,424) rotate(-90)" class="m" style="font-size:6px">3</text>
<text transform="translate(816.5,516) rotate(-90)">470mΩ R48</text>
<text transform="translate(824.5,516) rotate(-90)">470mΩ R49</text>
<text transform="translate(832.5,516) rotate(-90)">470mΩ R50</text>
</g>
</svg>
</body></html>
